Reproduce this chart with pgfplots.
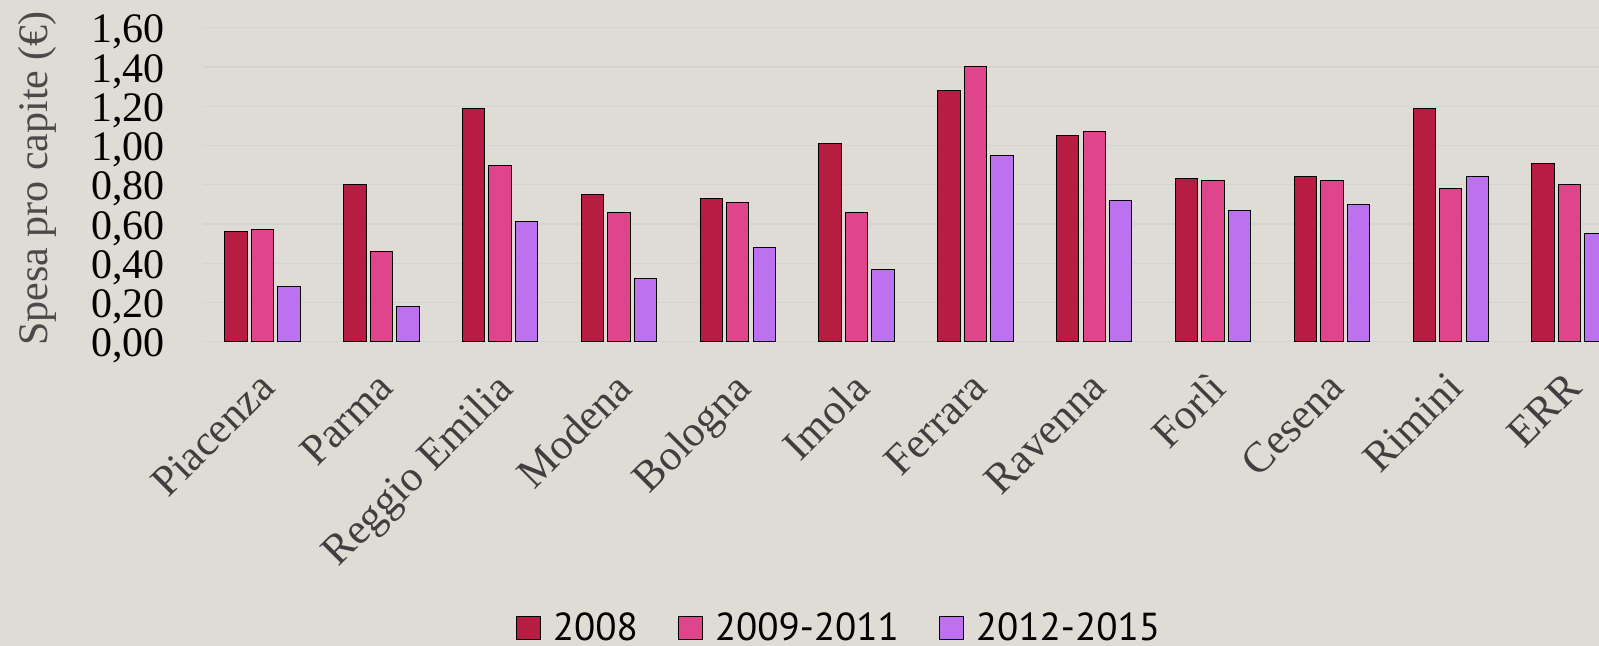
\documentclass[border=0pt]{standalone}
\usepackage{fontspec}
\setmainfont{Liberation Serif}
\newfontfamily\legfont{PT Sans}
\usepackage{pgfplots}
\pgfplotsset{compat=1.18}

\definecolor{bgcol}{HTML}{DFDCD6}
\definecolor{gridcol}{HTML}{D4D4D4}
\definecolor{cA}{HTML}{B71D42}
\definecolor{cB}{HTML}{DE458B}
\definecolor{cC}{HTML}{BC72EF}
\definecolor{ylab}{HTML}{4A4A4A}
\definecolor{xlab}{HTML}{3F3F3F}

\begin{document}
\begin{tikzpicture}
\path[use as bounding box, fill=bgcol] (0,0) rectangle (799.5pt,323pt);
\begin{axis}[
  at={(101.55pt,152.15pt)}, anchor=south west,
  scale only axis, width=697.95pt, height=157pt,
  ybar=2.05pt, bar width=11.2pt,
  xmin=-0.5, xmax=11.248,
  ymin=0, ymax=1.6,
  ytick={0,0.2,...,1.6},
  xtick=data,
  xticklabels={Piacenza,Parma,Reggio Emilia,Modena,Bologna,Imola,Ferrara,Ravenna,Forlì,Cesena,Rimini,ERR},
  axis line style={draw=none},
  major tick length=0pt,
  ymajorgrids, grid style={gridcol, line width=0.65pt},
  /pgf/number format/.cd, fixed, fixed zerofill, precision=2, use comma, assume math mode=true,
  /pgfplots/.cd,
  yticklabel style={font=\fontsize{21}{21}\selectfont, text=black, anchor=east, inner sep=0pt, xshift=-19pt, yshift=-2.25pt},
  xticklabel style={font=\fontsize{21.5}{21.5}\selectfont, text=xlab, inner sep=0pt, xshift=-3pt, yshift=-14pt, rotate=45, anchor=north east},
  ylabel={Spesa pro capite (€)},
  ylabel style={font=\fontsize{21}{21}\selectfont, text=ylab, at={(axis description cs:-0.119,0.52)}, anchor=center, rotate=0},
  legend image code/.code={\draw[#1, draw=black, line width=0.5pt] (0pt,-5.6pt) rectangle (12pt,5.9pt);},
  legend columns=-1,
  legend style={draw=none, fill=none, at={(axis description cs:0.4548,-0.9627)}, anchor=south,
    font=\legfont\fontsize{19.5}{19.5}\selectfont, inner sep=0pt,
    nodes={inner sep=0pt},
    /tikz/every odd column/.append style={column sep=6pt},
    /tikz/every even column/.append style={column sep=20pt}},
]
\addplot[fill=cA, draw=black, line width=0.5pt] coordinates {
  (0,0.56) (1,0.80) (2,1.19) (3,0.75) (4,0.73) (5,1.01)
  (6,1.28) (7,1.05) (8,0.83) (9,0.84) (10,1.19) (11,0.91)};
\addplot[fill=cB, draw=black, line width=0.5pt] coordinates {
  (0,0.57) (1,0.46) (2,0.90) (3,0.66) (4,0.71) (5,0.66)
  (6,1.40) (7,1.07) (8,0.82) (9,0.82) (10,0.78) (11,0.80)};
\addplot[fill=cC, draw=black, line width=0.5pt] coordinates {
  (0,0.28) (1,0.18) (2,0.61) (3,0.32) (4,0.48) (5,0.37)
  (6,0.95) (7,0.72) (8,0.67) (9,0.70) (10,0.84) (11,0.55)};
\legend{2008,2009-2011,2012-2015}
\end{axis}
\end{tikzpicture}
\end{document}
